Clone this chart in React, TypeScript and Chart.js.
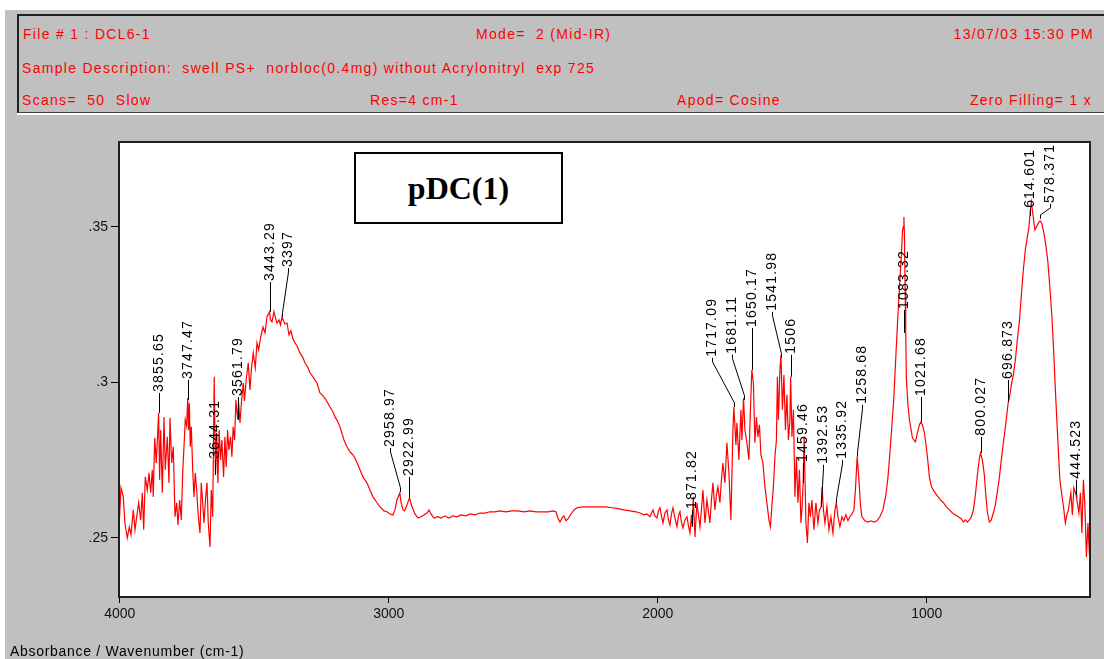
import { useEffect, useRef } from 'react';
import { Chart, registerables } from 'chart.js';

Chart.register(...registerables);

// Spectrum: wavenumber (cm-1) and absorbance, high to low wavenumber
const wavenumbers = [
  4002.0, 3995.6, 3987.0, 3981.0, 3972.2, 3964.8, 3958.4, 3949.9, 3943.5, 3937.2,
  3929.8, 3922.4, 3916.4, 3911.2, 3905.3, 3897.8, 3891.5, 3885.2, 3879.2, 3875.5,
  3870.3, 3864.4, 3855.7, 3852.0, 3848.0, 3842.0, 3835.7, 3830.9, 3823.4, 3817.2,
  3813.5, 3807.1, 3801.2, 3794.8, 3788.5, 3783.7, 3777.4, 3771.4, 3766.2, 3761.4,
  3756.6, 3751.5, 3747.5, 3744.5, 3741.5, 3738.0, 3734.2, 3729.0, 3724.2, 3719.4,
  3714.2, 3708.2, 3701.9, 3697.1, 3691.9, 3687.0, 3680.7, 3675.9, 3671.1, 3664.7,
  3659.9, 3654.7, 3649.0, 3644.3, 3640.2, 3635.4, 3630.6, 3625.3, 3620.5, 3614.2,
  3609.3, 3604.5, 3599.3, 3594.5, 3588.2, 3583.3, 3578.5, 3573.3, 3568.3, 3561.8,
  3558.2, 3553.2, 3547.0, 3541.0, 3536.5, 3530.0, 3522.4, 3516.2, 3509.9, 3503.9,
  3496.4, 3490.0, 3483.8, 3476.3, 3467.7, 3460.2, 3452.8, 3443.3, 3439.8, 3434.2,
  3426.8, 3421.2, 3415.6, 3408.2, 3402.7, 3397.0, 3391.5, 3385.9, 3378.5, 3371.0,
  3363.6, 3356.2, 3348.8, 3341.3, 3330.2, 3319.0, 3311.6, 3300.4, 3293.0, 3281.8,
  3266.9, 3255.8, 3244.6, 3233.5, 3218.6, 3207.4, 3200.0, 3188.9, 3181.5, 3166.6,
  3155.5, 3144.3, 3133.2, 3125.7, 3114.6, 3107.1, 3096.0, 3081.1, 3070.0, 3058.8,
  3043.9, 3032.7, 3017.9, 3006.7, 2995.6, 2984.4, 2977.0, 2969.5, 2959.0, 2954.6,
  2947.2, 2941.6, 2932.3, 2923.0, 2913.8, 2902.6, 2891.5, 2880.3, 2869.2, 2858.0,
  2850.6, 2843.1, 2832.0, 2817.1, 2806.0, 2791.1, 2776.2, 2761.4, 2746.5, 2731.6,
  2713.0, 2698.2, 2679.6, 2661.0, 2642.4, 2623.8, 2605.2, 2586.7, 2564.4, 2542.1,
  2519.8, 2497.4, 2475.1, 2452.8, 2430.5, 2408.2, 2389.6, 2378.5, 2371.0, 2363.6,
  2356.1, 2348.7, 2341.3, 2333.8, 2322.7, 2311.5, 2300.4, 2281.8, 2259.5, 2237.2,
  2214.9, 2192.6, 2170.3, 2148.0, 2125.7, 2103.4, 2081.0, 2066.2, 2051.3, 2040.1,
  2029.0, 2017.8, 2010.4, 2002.9, 1997.3, 1991.8, 1986.2, 1980.6, 1973.2, 1965.8,
  1960.2, 1954.6, 1949.0, 1943.5, 1936.0, 1928.6, 1923.0, 1917.5, 1911.9, 1906.3,
  1898.9, 1891.5, 1885.9, 1880.3, 1874.8, 1871.8, 1868.0, 1861.7, 1854.3, 1848.7,
  1843.1, 1837.6, 1832.0, 1824.6, 1817.2, 1811.6, 1806.0, 1800.5, 1794.9, 1787.5,
  1781.9, 1776.3, 1768.9, 1763.3, 1757.8, 1750.3, 1742.9, 1735.4, 1728.0, 1720.6,
  1717.1, 1709.4, 1705.7, 1698.3, 1690.8, 1687.1, 1681.1, 1676.0, 1668.5, 1661.1,
  1655.5, 1650.2, 1644.4, 1638.8, 1633.2, 1627.6, 1622.0, 1616.5, 1609.0, 1601.6,
  1594.2, 1586.7, 1581.1, 1575.5, 1570.0, 1564.4, 1558.8, 1555.1, 1551.4, 1545.8,
  1542.0, 1536.5, 1530.9, 1525.3, 1519.8, 1514.2, 1508.6, 1506.0, 1501.1, 1495.6,
  1490.0, 1484.4, 1478.8, 1473.2, 1467.7, 1463.5, 1459.5, 1455.8, 1449.1, 1443.6,
  1438.0, 1432.4, 1426.8, 1419.4, 1412.0, 1404.5, 1398.9, 1392.5, 1389.0, 1384.0,
  1378.5, 1371.0, 1363.6, 1356.2, 1348.7, 1341.3, 1335.9, 1330.2, 1322.8, 1315.3,
  1307.9, 1300.4, 1293.0, 1285.6, 1278.1, 1270.7, 1265.1, 1258.7, 1252.1, 1246.5,
  1241.0, 1229.8, 1218.7, 1207.5, 1196.4, 1185.2, 1174.1, 1162.9, 1151.8, 1144.3,
  1136.9, 1129.4, 1122.0, 1114.6, 1107.1, 1099.7, 1094.1, 1090.4, 1087.4, 1084.8,
  1082.9, 1080.3, 1078.1, 1075.5, 1069.9, 1064.3, 1053.2, 1042.0, 1034.6, 1027.2,
  1021.7, 1016.1, 1008.7, 1001.2, 995.6, 990.1, 982.6, 971.5, 960.3, 949.2,
  938.0, 926.9, 915.7, 904.6, 893.4, 882.3, 871.1, 863.7, 856.2, 848.8,
  841.4, 833.9, 826.5, 819.1, 811.6, 804.2, 800.0, 793.3, 785.9, 780.3,
  774.7, 767.3, 759.9, 752.4, 745.0, 737.5, 730.1, 722.7, 715.2, 707.8,
  696.9, 692.8, 685.4, 677.9, 670.5, 663.1, 655.6, 648.2, 640.8, 633.3,
  625.9, 620.3, 614.6, 611.0, 605.2, 597.8, 590.4, 582.9, 578.4, 572.0,
  564.6, 557.2, 549.7, 542.3, 534.9, 527.4, 520.0, 512.6, 505.1, 497.7,
  490.2, 484.7, 479.1, 473.5, 467.9, 464.2, 458.6, 453.0, 444.5, 441.7,
  434.3, 428.7, 423.1, 417.5, 411.9, 406.3, 400.7, 395.1, 393.5,
];

const absorbance = [
  0.2548, 0.2661, 0.2632, 0.2548, 0.2500, 0.2535, 0.2510, 0.2590, 0.2526, 0.2568,
  0.2613, 0.2558, 0.2645, 0.2526, 0.2696, 0.2654, 0.2709, 0.2645, 0.2719, 0.2632,
  0.2822, 0.2741, 0.2902, 0.2687, 0.2847, 0.2645, 0.2889, 0.2719, 0.2825, 0.2677,
  0.2886, 0.2741, 0.2793, 0.2568, 0.2613, 0.2542, 0.2622, 0.2558, 0.2709, 0.2793,
  0.2880, 0.2860, 0.2950, 0.2847, 0.2934, 0.2793, 0.2857, 0.2719, 0.2632, 0.2709,
  0.2654, 0.2568, 0.2516, 0.2677, 0.2613, 0.2548, 0.2632, 0.2677, 0.2548, 0.2471,
  0.2654, 0.2568, 0.3018, 0.2703, 0.2838, 0.2677, 0.2847, 0.2751, 0.2815, 0.2696,
  0.2825, 0.2728, 0.2847, 0.2783, 0.2825, 0.2761, 0.2857, 0.2815, 0.2944, 0.2880,
  0.2934, 0.2870, 0.2944, 0.2998, 0.2940, 0.3010, 0.3063, 0.2976, 0.3050, 0.3095,
  0.3047, 0.3127, 0.3105, 0.3146, 0.3178, 0.3159, 0.3211, 0.3227, 0.3201, 0.3195,
  0.3227, 0.3207, 0.3191, 0.3201, 0.3185, 0.3211, 0.3198, 0.3188, 0.3191, 0.3153,
  0.3166, 0.3140, 0.3127, 0.3118, 0.3095, 0.3079, 0.3063, 0.3047, 0.3031, 0.3018,
  0.2998, 0.2966, 0.2957, 0.2944, 0.2921, 0.2905, 0.2889, 0.2873, 0.2857, 0.2815,
  0.2793, 0.2777, 0.2767, 0.2757, 0.2735, 0.2719, 0.2696, 0.2677, 0.2654, 0.2632,
  0.2613, 0.2600, 0.2587, 0.2584, 0.2577, 0.2574, 0.2590, 0.2622, 0.2645, 0.2616,
  0.2590, 0.2587, 0.2606, 0.2629, 0.2600, 0.2577, 0.2564, 0.2568, 0.2574, 0.2580,
  0.2590, 0.2577, 0.2564, 0.2568, 0.2564, 0.2571, 0.2564, 0.2571, 0.2568, 0.2574,
  0.2571, 0.2577, 0.2574, 0.2580, 0.2580, 0.2584, 0.2584, 0.2587, 0.2584, 0.2587,
  0.2587, 0.2584, 0.2587, 0.2584, 0.2584, 0.2584, 0.2587, 0.2584, 0.2564, 0.2551,
  0.2564, 0.2571, 0.2555, 0.2561, 0.2577, 0.2590, 0.2597, 0.2600, 0.2600, 0.2600,
  0.2600, 0.2600, 0.2597, 0.2594, 0.2590, 0.2587, 0.2584, 0.2580, 0.2574, 0.2577,
  0.2568, 0.2590, 0.2571, 0.2564, 0.2587, 0.2597, 0.2571, 0.2548, 0.2580, 0.2590,
  0.2558, 0.2542, 0.2577, 0.2597, 0.2564, 0.2536, 0.2571, 0.2584, 0.2551, 0.2532,
  0.2558, 0.2568, 0.2539, 0.2516, 0.2574, 0.2536, 0.2632, 0.2503, 0.2613, 0.2574,
  0.2536, 0.2590, 0.2654, 0.2548, 0.2622, 0.2584, 0.2548, 0.2622, 0.2677, 0.2590,
  0.2638, 0.2664, 0.2613, 0.2687, 0.2741, 0.2677, 0.2806, 0.2709, 0.2558, 0.2847,
  0.2921, 0.2799, 0.2870, 0.2751, 0.2912, 0.2815, 0.2950, 0.2847, 0.2806, 0.2751,
  0.2912, 0.3040, 0.2998, 0.2806, 0.2889, 0.2825, 0.2864, 0.2767, 0.2741, 0.2664,
  0.2613, 0.2558, 0.2536, 0.2606, 0.2664, 0.2761, 0.2815, 0.3018, 0.2880, 0.3040,
  0.3088, 0.2912, 0.3024, 0.2847, 0.2960, 0.2815, 0.2880, 0.3018, 0.2825, 0.2912,
  0.2632, 0.2761, 0.2613, 0.2719, 0.2548, 0.2600, 0.2677, 0.2825, 0.2548, 0.2484,
  0.2613, 0.2568, 0.2622, 0.2526, 0.2613, 0.2548, 0.2590, 0.2600, 0.2664, 0.2590,
  0.2548, 0.2600, 0.2526, 0.2568, 0.2516, 0.2590, 0.2613, 0.2568, 0.2536, 0.2568,
  0.2555, 0.2574, 0.2555, 0.2568, 0.2577, 0.2590, 0.2654, 0.2761, 0.2687, 0.2606,
  0.2568, 0.2555, 0.2551, 0.2555, 0.2551, 0.2555, 0.2568, 0.2590, 0.2638, 0.2693,
  0.2773, 0.2863, 0.2954, 0.3088, 0.3217, 0.3330, 0.3410, 0.3484, 0.3500, 0.3532,
  0.3474, 0.3298, 0.3159, 0.3008, 0.2928, 0.2880, 0.2822, 0.2809, 0.2838, 0.2864,
  0.2873, 0.2864, 0.2838, 0.2789, 0.2745, 0.2696, 0.2664, 0.2648, 0.2635, 0.2622,
  0.2613, 0.2600, 0.2590, 0.2580, 0.2574, 0.2568, 0.2561, 0.2551, 0.2558, 0.2551,
  0.2558, 0.2568, 0.2590, 0.2638, 0.2703, 0.2757, 0.2773, 0.2751, 0.2703, 0.2638,
  0.2584, 0.2551, 0.2558, 0.2580, 0.2606, 0.2648, 0.2693, 0.2751, 0.2806, 0.2854,
  0.2937, 0.2950, 0.2992, 0.3024, 0.3072, 0.3137, 0.3195, 0.3281, 0.3362, 0.3426,
  0.3468, 0.3497, 0.3555, 0.3580, 0.3539, 0.3490, 0.3503, 0.3516, 0.3519, 0.3510,
  0.3481, 0.3442, 0.3388, 0.3307, 0.3217, 0.3088, 0.2944, 0.2815, 0.2687, 0.2638,
  0.2590, 0.2548, 0.2574, 0.2590, 0.2622, 0.2645, 0.2574, 0.2661, 0.2638, 0.2622,
  0.2580, 0.2645, 0.2516, 0.2687, 0.2600, 0.2439, 0.2548, 0.2446, 0.2470,
];

// Axis ticks
const xTicks = [4000, 3000, 2000, 1000];
const yTicks = [0.25, 0.3, 0.35];

// Peak annotations: label text, peak position, leader tip, label anchor
const peakLabels = [
  '3855.65', '3747.47', '3644.31', '3561.79', '3443.29', '3397', '2958.97', '2922.99',
  '1871.82', '1717.09', '1681.11', '1650.17', '1541.98', '1506', '1459.46', '1392.53',
  '1335.92', '1258.68', '1083.32', '1021.68', '800.027', '696.873', '614.601', '578.371',
  '444.523',
];
const peakWavenumbers = [
  3855.65, 3747.47, 3644.31, 3561.79, 3443.29, 3397, 2958.97, 2922.99,
  1871.82, 1717.09, 1681.11, 1650.17, 1541.98, 1506, 1459.46, 1392.53,
  1335.92, 1258.68, 1083.32, 1021.68, 800.027, 696.873, 614.601, 578.371,
  444.523,
];
const peakTipAbs = [
  0.2902, 0.2944, 0.2703, 0.2880, 0.3227, 0.3211, 0.2648, 0.2629,
  0.2536, 0.2921, 0.2944, 0.3040, 0.3079, 0.3018, 0.2677, 0.2600,
  0.2613, 0.2761, 0.3159, 0.2873, 0.2773, 0.2937, 0.3535, 0.3526,
  0.2638,
];
const labelWavenumbers = [
  3855.65, 3747.47, 3644.31, 3561.79, 3443.29, 3374.8, 2995.0, 2922.99,
  1871.82, 1797.0, 1724.3, 1650.17, 1575.5, 1506, 1459.46, 1385.9,
  1315.3, 1241.0, 1083.32, 1021.68, 800.027, 696.873, 614.601, 540.0,
  444.523,
];
const labelBaseAbs = [
  0.2966, 0.3008, 0.2751, 0.2953, 0.3323, 0.3368, 0.2789, 0.2696,
  0.2590, 0.3079, 0.3089, 0.3175, 0.3227, 0.3089, 0.2741, 0.2735,
  0.2751, 0.2928, 0.3233, 0.2953, 0.2825, 0.3008, 0.3558, 0.3574,
  0.2687,
];

const headerRow1 = ['File # 1 : DCL6-1', 'Mode=  2 (Mid-IR)', '13/07/03 15:30 PM'];
const headerRow2 = 'Sample Description:  swell PS+  norbloc(0.4mg) without Acrylonitryl  exp 725';
const headerRow3 = ['Scans=  50  Slow', 'Res=4 cm-1', 'Apod= Cosine', 'Zero Filling= 1 x'];
const sampleTitle = 'pDC(1)';
const axisCaption = 'Absorbance / Wavenumber (cm-1)';

const GRAY = '#c0c0c0';
const UI_FONT = '"Liberation Sans", Arial, sans-serif';

const plotFrame = {
  id: 'plotFrame',
  beforeDraw(chart: any) {
    const { ctx, chartArea: a } = chart;
    ctx.save();
    ctx.fillStyle = '#ffffff';
    ctx.fillRect(a.left, a.top, a.right - a.left, a.bottom - a.top);
    ctx.restore();
  },
  afterDraw(chart: any) {
    const { ctx, chartArea: a } = chart;
    ctx.save();
    ctx.strokeStyle = '#202020';
    ctx.lineWidth = 2;
    ctx.strokeRect(a.left, a.top, a.right - a.left, a.bottom - a.top);
    ctx.restore();
  },
};

// Rotated peak labels joined to their peaks by leader lines
const peakMarkers = {
  id: 'peakMarkers',
  afterDatasetsDraw(chart: any) {
    const { ctx } = chart;
    const xs = chart.scales.x;
    const ys = chart.scales.y;
    ctx.save();
    ctx.strokeStyle = '#000000';
    ctx.fillStyle = '#000000';
    ctx.lineWidth = 1;
    ctx.font = `14px ${UI_FONT}`;
    (ctx as any).letterSpacing = '1.2px';
    ctx.textAlign = 'left';
    ctx.textBaseline = 'middle';
    peakLabels.forEach((label, i) => {
      const tipX = Math.round(xs.getPixelForValue(peakWavenumbers[i])) + 0.5;
      const tipY = ys.getPixelForValue(peakTipAbs[i]);
      const baseX = Math.round(xs.getPixelForValue(labelWavenumbers[i])) + 0.5;
      const baseY = ys.getPixelForValue(labelBaseAbs[i]);
      ctx.beginPath();
      ctx.moveTo(tipX, tipY);
      if (Math.abs(tipX - baseX) > 1) {
        ctx.lineTo(tipX, tipY - 4);
        ctx.lineTo(baseX, baseY + 4);
      }
      ctx.lineTo(baseX, baseY);
      ctx.stroke();
      ctx.save();
      ctx.translate(baseX, baseY - 1);
      ctx.rotate(-Math.PI / 2);
      ctx.fillText(label, 0, 0);
      ctx.restore();
    });
    ctx.restore();
  },
};

function Spectrum() {
  const canvasRef = useRef<HTMLCanvasElement | null>(null);

  useEffect(() => {
    const canvas = canvasRef.current;
    if (!canvas) return;
    const points = wavenumbers.map((x, i) => ({ x, y: absorbance[i] }));
    const chart = new Chart(canvas, {
      type: 'line',
      data: {
        datasets: [
          {
            data: points,
            borderColor: '#ff0000',
            borderWidth: 1.2,
            pointRadius: 0,
            fill: false,
            tension: 0,
          },
        ],
      },
      options: {
        animation: false,
        responsive: false,
        devicePixelRatio: 1,
        layout: { padding: { left: 0, top: 22, right: 14, bottom: 0 } },
        plugins: { legend: { display: false }, tooltip: { enabled: false } },
        scales: {
          x: {
            type: 'linear',
            reverse: true,
            min: 393,
            max: 4003,
            afterBuildTicks: (scale: any) => {
              scale.ticks = xTicks.map((value) => ({ value }));
            },
            afterFit: (scale: any) => {
              scale.height = 62;
            },
            grid: { drawOnChartArea: false, drawTicks: true, tickLength: 6, color: '#000000' },
            border: { display: false },
            ticks: {
              color: '#111111',
              font: { family: UI_FONT, size: 14 },
              padding: 3,
              maxRotation: 0,
              autoSkip: false,
              callback: (v: any) => String(v),
            },
          },
          y: {
            type: 'linear',
            min: 0.231,
            max: 0.3773,
            afterBuildTicks: (scale: any) => {
              scale.ticks = yTicks.map((value) => ({ value }));
            },
            afterFit: (scale: any) => {
              scale.width = 119;
            },
            grid: { drawOnChartArea: false, drawTicks: true, tickLength: 8, color: '#000000' },
            border: { display: false },
            ticks: {
              color: '#111111',
              font: { family: UI_FONT, size: 14 },
              padding: 3,
              autoSkip: false,
              callback: (v: any) => Number(v).toFixed(2).replace(/^0/, '').replace(/0$/, ''),
            },
          },
        },
      },
      plugins: [plotFrame, peakMarkers],
    });
    return () => chart.destroy();
  }, []);

  return (
    <canvas
      ref={canvasRef}
      width={1104}
      height={539}
      style={{ position: 'absolute', left: 0, top: 120, width: 1104, height: 539 }}
    />
  );
}

const headerText: any = {
  position: 'absolute',
  fontFamily: UI_FONT,
  fontSize: 14,
  lineHeight: '16px',
  letterSpacing: '1.3px',
  whiteSpace: 'pre',
  color: '#ff0000',
};

export default function App() {
  return (
    <div
      style={{
        position: 'fixed',
        left: 0,
        top: 0,
        width: 1104,
        height: 659,
        background: '#ffffff',
        overflow: 'hidden',
      }}
    >
      <div style={{ position: 'absolute', left: 5, top: 10, right: 0, bottom: 0, background: GRAY }} />
      <div
        style={{
          position: 'absolute',
          left: 17,
          top: 14,
          width: 1104,
          height: 96,
          background: GRAY,
          borderTop: '2px solid #202020',
          borderLeft: '2px solid #202020',
          borderBottom: '1px solid #404040',
          boxShadow: '0 2px 0 #ffffff',
        }}
      />
      <div style={{ ...headerText, left: 23, top: 26 }}>{headerRow1[0]}</div>
      <div style={{ ...headerText, left: 476, top: 26 }}>{headerRow1[1]}</div>
      <div style={{ ...headerText, right: 10, top: 26 }}>{headerRow1[2]}</div>
      <div style={{ ...headerText, left: 22, top: 60 }}>{headerRow2}</div>
      <div style={{ ...headerText, left: 22, top: 92 }}>{headerRow3[0]}</div>
      <div style={{ ...headerText, left: 370, top: 92 }}>{headerRow3[1]}</div>
      <div style={{ ...headerText, left: 677, top: 92 }}>{headerRow3[2]}</div>
      <div style={{ ...headerText, right: 12, top: 92 }}>{headerRow3[3]}</div>
      <Spectrum />
      <div
        style={{
          position: 'absolute',
          left: 354,
          top: 152,
          width: 205,
          height: 68,
          border: '2px solid #000000',
          background: '#ffffff',
          display: 'flex',
          alignItems: 'center',
          justifyContent: 'center',
          fontFamily: '"Liberation Serif", "Times New Roman", serif',
          fontWeight: 'bold',
          fontSize: 32,
          color: '#000000',
        }}
      >
        {sampleTitle}
      </div>
      <div style={{ ...headerText, letterSpacing: '0.7px', color: '#000000', left: 10, top: 643 }}>
        {axisCaption}
      </div>
    </div>
  );
}
